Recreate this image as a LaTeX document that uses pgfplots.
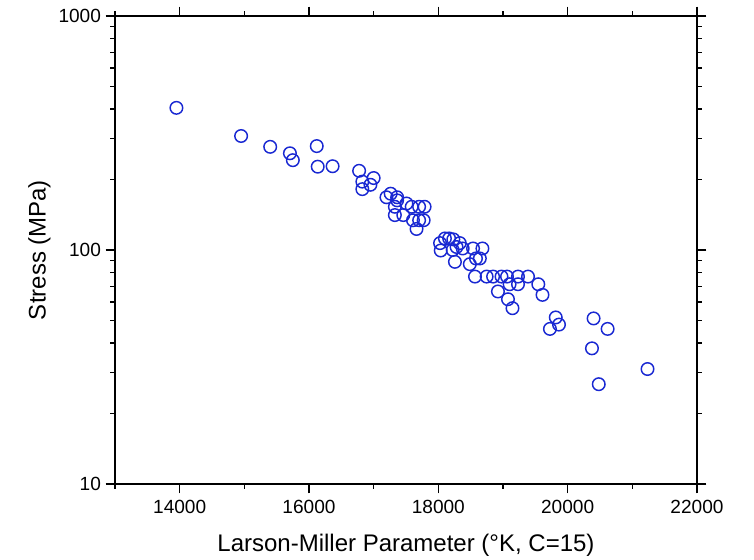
\documentclass[border=0pt]{standalone}
\usepackage{fontspec}
\setmainfont{Liberation Sans}
\usepackage{pgfplots}
\pgfplotsset{compat=1.18}
\definecolor{markblue}{RGB}{25,40,210}
\begin{document}
\begin{tikzpicture}
\begin{axis}[
  at={(0,0)}, anchor=south west,
  scale only axis, width=436.5pt, height=351pt,
  xmin=13000, xmax=22000, ymode=log, ymin=10, ymax=1000,
  scaled x ticks=false,
  xtick={14000,16000,18000,20000,22000},
  xticklabels={14000,16000,18000,20000,22000},
  minor xtick={13000,15000,17000,19000,21000},
  ytick={10,100,1000}, yticklabels={10,100,1000},
  minor ytick={20,30,40,50,60,70,80,90,200,300,400,500,600,700,800,900},
  tick align=outside,
  major tick length=7pt, minor tick length=3.5pt,
  every tick/.style={black, line width=1.1pt},
  axis line style={line width=1.5pt},
  ticklabel style={font=\fontsize{14.3}{16}\selectfont},
  xticklabel style={yshift=-2pt},
  label style={font=\fontsize{18}{21}\selectfont},
  xlabel={Larson-Miller Parameter (°K, C=15)},
  ylabel={Stress (MPa)},
  x label style={at={(axis description cs:0.5,-0.13)}, anchor=center},
  y label style={at={(axis description cs:-0.13,0.5)}, anchor=center},
]
\addplot[only marks, mark=o, mark size=4.7pt, markblue, mark options={line width=1.1pt}] coordinates {
(13950,405) (14950,307) (15400,276) (15705,259) (15750,242) (16120,278) (16135,227) (16365,228)
(16775,218) (16825,196) (17000,203) (16950,190) (16825,182) (17198,168) (17263,174) (17363,168)
(17363,163) (17328,153) (17328,141) (17458,141) (17508,158) (17588,153) (17703,153) (17788,153)
(17608,134) (17703,134) (17773,134) (17663,123) (18027,107) (18037,99.5) (18102,112) (18167,112)
(18232,111) (18282,103) (18332,107) (18222,100) (18377,101.5) (18537,101.5) (18682,101.5)
(18257,89) (18487,87) (18582,92) (18642,92) (18567,77) (18747,77) (18847,77) (18977,77)
(19062,77) (19232,77) (19387,77) (19102,71.4) (19232,71.4) (19546,71.4) (19611,64.3)
(18922,66.5) (19077,61.6) (19147,56.4) (19816,51.5) (19866,48) (19726,46) (20401,51)
(20618,46) (20376,38) (21235,31) (20481,26.7)
};
\end{axis}
\pgfresetboundingbox
\path[use as bounding box] (-86.25pt,-57pt) rectangle (479.25pt,363pt);
\end{tikzpicture}
\end{document}
